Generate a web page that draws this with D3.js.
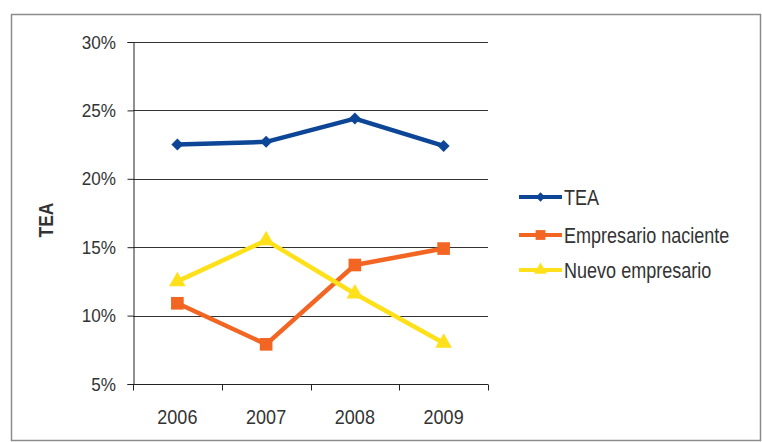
<!DOCTYPE html>
<html>
<head>
<meta charset="utf-8">
<script src="https://cdn.jsdelivr.net/npm/d3@7"></script>
<style>
    body { margin: 0; background: #fff; }
    text { font-family: "Liberation Sans", Arial, sans-serif; fill: #333; }
</style>
</head>
<body>
<div id="chart"></div>
<script>
// Data
const years = ["2006", "2007", "2008", "2009"];
const tea = [22.5, 22.7, 24.4, 22.4];
const naciente = [10.9, 7.9, 13.7, 14.9];
const nuevo = [12.5, 15.5, 11.6, 8.0];
const yTicks = [5, 10, 15, 20, 25, 30];

// Diamonds are drawn as squares turned 45 degrees
const series = [
    { name: "TEA", values: tea, color: "#0d4597", symbol: d3.symbolSquare, size: 72, rot: 45 },
    { name: "Empresario naciente", values: naciente, color: "#f26522", symbol: d3.symbolSquare, size: 160, rot: 0 },
    { name: "Nuevo empresario", values: nuevo, color: "#ffe01a", symbol: d3.symbolTriangle, size: 120, rot: 0 },
];

const width = 762, height = 442;
const margin = { left: 133, right: 274, top: 42, bottom: 58 };

const svg = d3.select("#chart")
    .append("svg")
    .attr("width", width)
    .attr("height", height);

// Outer frame
svg.append("rect")
    .attr("x", 11.5).attr("y", 14.5)
    .attr("width", 749).attr("height", 426)
    .attr("fill", "none")
    .attr("stroke", "#8c8c8c")
    .attr("stroke-width", 1.5);

const x = d3.scaleBand()
    .domain(years)
    .range([margin.left, width - margin.right]);

const y = d3.scaleLinear()
    .domain([5, 30])
    .range([height - margin.bottom, margin.top]);

// Gridlines
svg.append("g")
    .selectAll("line")
    .data(yTicks.slice(1))
    .enter()
    .append("line")
    .attr("x1", margin.left)
    .attr("x2", width - margin.right)
    .attr("y1", d => Math.round(y(d)) + 0.5)
    .attr("y2", d => Math.round(y(d)) + 0.5)
    .attr("stroke", "#333")
    .attr("stroke-width", 1);

// Y axis (ticks from d3, labels placed with a narrow squeeze)
const yAxis = svg.append("g")
    .attr("transform", `translate(${margin.left + 0.5},0)`)
    .call(d3.axisLeft(y).tickValues(yTicks).tickFormat("").tickSize(6));
yAxis.select(".domain").attr("stroke", "#222");
yAxis.selectAll(".tick line").attr("stroke", "#222");

svg.append("g")
    .selectAll("text")
    .data(yTicks)
    .enter()
    .append("text")
    .attr("transform", d => `translate(116,${y(d) + 6.5}) scale(0.9,1)`)
    .attr("text-anchor", "end")
    .style("font-size", "19px")
    .text(d => d + "%");

// X axis with ticks between categories
const xAxis = svg.append("g")
    .attr("transform", `translate(0,${Math.round(y(5)) + 0.5})`);
xAxis.append("line")
    .attr("x1", margin.left).attr("x2", width - margin.right)
    .attr("stroke", "#222");
const bounds = years.map(d => x(d)).concat([x(years[years.length - 1]) + x.bandwidth()]);
xAxis.selectAll(".tk")
    .data(bounds)
    .enter()
    .append("line")
    .attr("class", "tk")
    .attr("x1", d => Math.round(d) + 0.5)
    .attr("x2", d => Math.round(d) + 0.5)
    .attr("y1", 0).attr("y2", 6)
    .attr("stroke", "#222");
xAxis.selectAll(".lbl")
    .data(years)
    .enter()
    .append("text")
    .attr("class", "lbl")
    .attr("transform", d => `translate(${x(d) + x.bandwidth() / 2},39) scale(0.9,1)`)
    .attr("text-anchor", "middle")
    .style("font-size", "20px")
    .text(d => d);

// Y axis title
svg.append("text")
    .attr("transform", `translate(53,220) rotate(-90) scale(0.87,1)`)
    .attr("text-anchor", "middle")
    .style("font-size", "20px")
    .style("font-weight", "bold")
    .attr("fill", "#222")
    .text("TEA");

// Lines and markers
const line = d3.line()
    .x((d, i) => x(years[i]) + x.bandwidth() / 2)
    .y(d => y(d));

series.forEach(s => {
    svg.append("path")
        .datum(s.values)
        .attr("d", line)
        .attr("fill", "none")
        .attr("stroke", s.color)
        .attr("stroke-width", 4.5)
        .attr("stroke-linejoin", "round");

    svg.append("g")
        .selectAll("path")
        .data(s.values)
        .enter()
        .append("path")
        .attr("transform", (d, i) => `translate(${x(years[i]) + x.bandwidth() / 2},${y(d)}) rotate(${s.rot})`)
        .attr("d", d3.symbol().type(s.symbol).size(s.size))
        .attr("fill", s.color);
});

// Legend
const legend = svg.append("g")
    .selectAll("g")
    .data(series)
    .enter()
    .append("g")
    .attr("transform", (d, i) => `translate(519,${[197, 235, 270][i]})`);

legend.append("line")
    .attr("x1", 0).attr("x2", 43)
    .attr("stroke", d => d.color)
    .attr("stroke-width", 4);

legend.append("path")
    .attr("transform", d => `translate(21.5,0) rotate(${d.rot})`)
    .attr("d", d => d3.symbol().type(d.symbol).size(d.size * 0.6)())
    .attr("fill", d => d.color);

legend.append("text")
    .attr("transform", "translate(45,8) scale(0.82,1)")
    .style("font-size", "22px")
    .text(d => d.name);
</script>
</body>
</html>
